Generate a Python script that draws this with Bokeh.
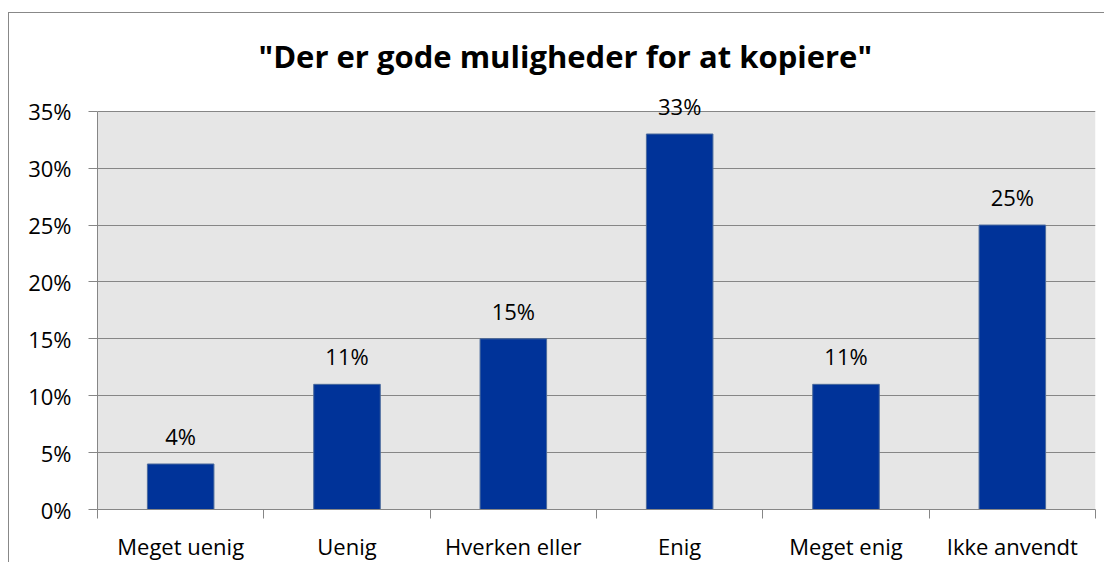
from bokeh.plotting import figure
from bokeh.models import FixedTicker, PrintfTickFormatter, ColumnDataSource, Range1d
from bokeh.embed import file_html
from bokeh.resources import INLINE

categories = ["Meget uenig", "Uenig", "Hverken eller", "Enig", "Meget enig", "Ikke anvendt"]
percent = [4, 11, 15, 33, 11, 25]
y_ticks = [0, 5, 10, 15, 20, 25, 30, 35]
title_text = '"Der er gode muligheder for at kopiere"'

FONT = "Open Sans"
GRAY = "#868686"
Y_MAX = 35

x = [i + 0.5 for i in range(len(categories))]
labels = [f"{v}%" for v in percent]
src = ColumnDataSource(dict(x=x, top=percent, label=labels))
n = len(categories)

p = figure(width=1096, height=550,
           x_range=Range1d(0, n), y_range=Range1d(0, 37),
           output_backend="svg", toolbar_location=None,
           min_border_left=88, min_border_right=10,
           min_border_top=75, min_border_bottom=50,
           styles={"border-left": "1px solid #888888", "border-top": "1px solid #888888",
                   "margin-top": "12px", "margin-left": "8px"})

p.background_fill_color = "white"
p.border_fill_color = "white"
p.outline_line_color = None

# plot-area background only up to the top tick
p.quad(left=[0], right=[n], bottom=[0], top=[Y_MAX], fill_color="#e6e6e6",
       line_color=None, level="image")

p.vbar(x="x", top="top", width=0.4, bottom=0, source=src,
       fill_color="#003399", line_color="#4a6a9c", line_width=1)

p.text(x="x", y="top", text="label", source=src,
       text_align="center", text_baseline="alphabetic", y_offset=-28,
       text_font_size="22px", text_font={"value": FONT}, text_color="black")

# y axis
p.yaxis.ticker = FixedTicker(ticks=y_ticks)
p.yaxis.bounds = (0, Y_MAX)
p.yaxis.formatter = PrintfTickFormatter(format="%d%%")
p.yaxis.axis_line_color = GRAY
p.yaxis.major_tick_line_color = GRAY
p.yaxis.major_tick_out = 9
p.yaxis.major_tick_in = 0
p.yaxis.minor_tick_line_color = None
p.yaxis.major_label_standoff = 17
p.yaxis.major_label_text_font = FONT
p.yaxis.major_label_text_font_size = "22px"
p.yaxis.major_label_text_color = "black"

# x axis
p.xaxis.ticker = FixedTicker(ticks=x, minor_ticks=list(range(n + 1)))
p.xaxis.major_label_overrides = {xi: c for xi, c in zip(x, categories)}
p.xaxis.axis_line_color = GRAY
p.xaxis.major_tick_line_color = None
p.xaxis.major_tick_out = 0
p.xaxis.major_tick_in = 0
p.xaxis.minor_tick_line_color = GRAY
p.xaxis.minor_tick_out = 9
p.xaxis.minor_tick_in = 0
p.xaxis.major_label_standoff = 12
p.xaxis.major_label_text_font = FONT
p.xaxis.major_label_text_font_size = "22px"
p.xaxis.major_label_text_color = "black"

p.xgrid.visible = False
p.ygrid.grid_line_color = GRAY
p.ygrid.grid_line_width = 1
p.ygrid.ticker = FixedTicker(ticks=y_ticks)

p.title.text = title_text
p.title.align = "left"
p.title.offset = 161
p.title.standoff = 24
p.title.text_font = FONT
p.title.text_font_style = "bold"
p.title.text_font_size = "31px"
p.title.text_color = "black"

open("out.html", "w").write(file_html(p, INLINE))
